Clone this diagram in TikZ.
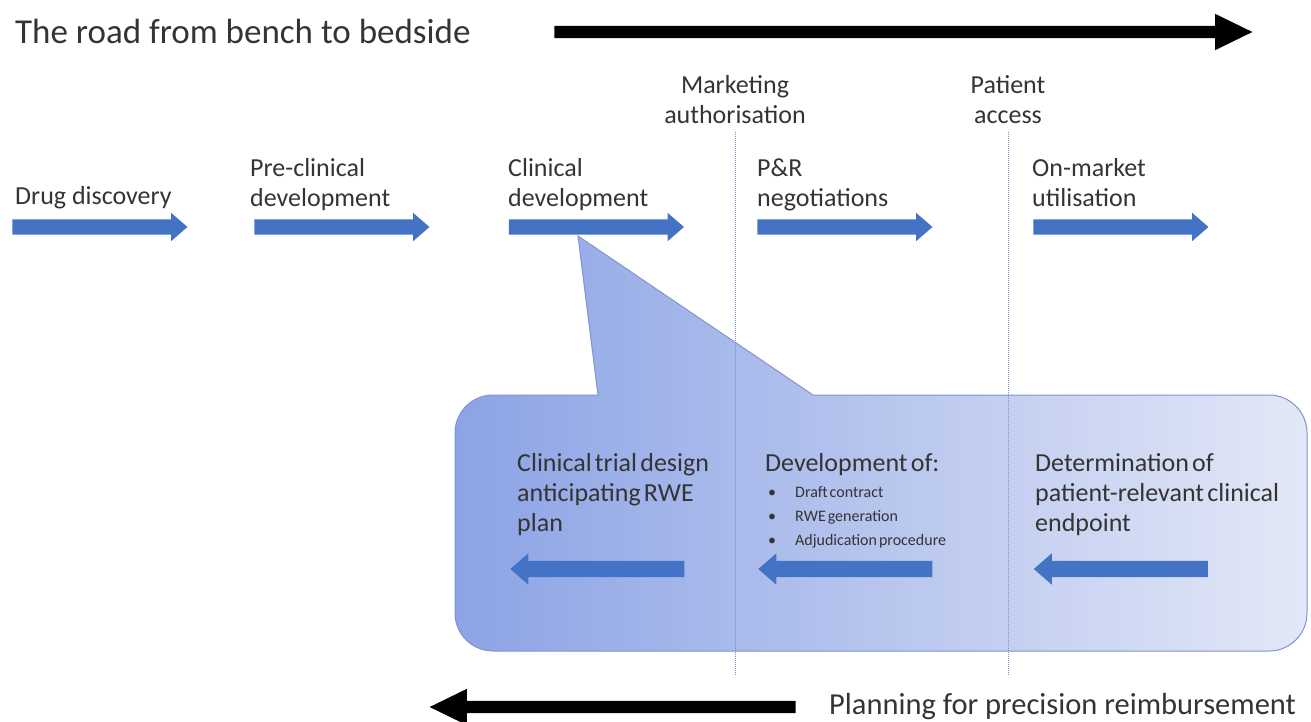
\documentclass[tikz,border=0pt]{standalone}
\usepackage{fontspec}
\setmainfont{Carlito}
\newfontfamily\tightfont{Carlito}[WordSpace=0.55]
\usetikzlibrary{shapes.arrows}

\definecolor{arrowblue}{RGB}{68,114,196}
\definecolor{ink}{RGB}{52,52,52}
\definecolor{calloutleft}{RGB}{140,163,229}
\definecolor{calloutright}{RGB}{227,232,247}
\definecolor{calloutedge}{RGB}{128,148,206}
\definecolor{milestone}{RGB}{122,144,200}

\begin{document}
\begin{tikzpicture}[x=1pt,y=-1pt,
  blockarrow/.style={single arrow, fill=arrowblue, draw=none, inner sep=0pt,
    text height=15pt, text depth=0pt, minimum height=175pt,
    single arrow head extend=6.5pt, single arrow tip angle=82},
  backarrow/.style={blockarrow, text height=16pt, single arrow head extend=7.5pt,
    shape border rotate=180, minimum height=174pt},
  roadarrow/.style={single arrow, fill=black, draw=none, inner sep=0pt,
    text height=12pt, text depth=0pt, single arrow head extend=12pt,
    single arrow tip angle=52},
  % for multi-line labels the base anchor sits on the last line
  stagelabel/.style={anchor=base west, align=left, inner sep=0pt, text=ink,
    font=\fontsize{26}{30}\selectfont},
  milestonelabel/.style={anchor=base, align=center, inner sep=0pt, text=ink,
    font=\fontsize{26}{30}\selectfont},
  tasklabel/.style={anchor=base west, align=left, inner sep=0pt, text=ink,
    font=\tightfont\fontsize{26}{30}\selectfont},
  bulletlabel/.style={anchor=base west, align=left, inner sep=0pt, text=ink,
    font=\tightfont\fontsize{16}{24}\selectfont},
  headline/.style={anchor=base west, inner sep=0pt, text=ink,
    font=\fontsize{35}{42}\selectfont},
  milestoneline/.style={milestone, densely dotted, line width=1pt}
]
\useasboundingbox (0,0) rectangle (1311,721);

% forward road
\node[headline] (title) at (15,43) {The road from bench to bedside};
\node[roadarrow, minimum height=698pt] (road) at (897,32) {};

% development stages
\node[blockarrow] (s1) at (95.5,227) {};
\node[blockarrow] (s2) at (337.5,227) {};
\node[blockarrow] (s3) at (592,227) {};
\node[blockarrow] (s4) at (840.5,227) {};
\node[blockarrow] (s5) at (1116.5,227) {};

\node[stagelabel] (l1) at (15,204) {Drug discovery};
\node[stagelabel] (l2) at (250,206) {Pre-clinical\\development};
\node[stagelabel] (l3) at (508,206) {Clinical\\development};
\node[stagelabel] (l4) at (757,206) {P\&R\\negotiations};
\node[stagelabel] (l5) at (1032,206) {On-market\\utilisation};

\node[milestonelabel] (m1) at (735,123) {Marketing\\authorisation};
\node[milestonelabel] (m2) at (1008,123) {Patient\\access};

% callout anchored on the clinical development stage
\coordinate (tip) at (578,236);
\shade[left color=calloutleft, right color=calloutright, draw=calloutedge, line width=1pt]
  (598,395) -- (tip) -- (813,395) -- (1269,395)
  .. controls (1290,395) and (1307,412) .. (1307,433) -- (1307,613)
  .. controls (1307,634) and (1290,651) .. (1269,651) -- (493,651)
  .. controls (472,651) and (455,634) .. (455,613) -- (455,433)
  .. controls (455,412) and (472,395) .. (493,395) -- cycle;

% milestone markers
\coordinate (m1top) at (735,132);
\coordinate (m2top) at (1008,132);
\coordinate (m1end) at (735,676);
\coordinate (m2end) at (1008,676);
\draw[milestoneline] (m1top) -- (m1end);
\draw[milestoneline] (m2top) -- (m2end);

% backward planning steps
\node[tasklabel] (t1) at (517,531) {Clinical trial design\\anticipating RWE\\plan};
\node[tasklabel] (t2) at (765,471) {Development of:};
\node[bulletlabel] (t2list) at (768,545)
  {\makebox[27pt][l]{\textbullet}Draft contract\\
   \makebox[27pt][l]{\textbullet}RWE generation\\
   \makebox[27pt][l]{\textbullet}Adjudication procedure};
\node[tasklabel] (t3) at (1035,531) {Determination of\\patient-relevant clinical\\endpoint};

\node[backarrow] (b1) at (602,569) {};
\node[backarrow] (b2) at (850,569) {};
\node[backarrow] (b3) at (1125.5,569) {};

% backward road
\node[roadarrow, minimum height=366pt, shape border rotate=180] (plan) at (619,707) {};
\node[anchor=base west, inner sep=0pt, text=ink, font=\fontsize{30.5}{36}\selectfont]
  (plantext) at (829,714) {Planning for precision reimbursement};
\end{tikzpicture}
\end{document}
